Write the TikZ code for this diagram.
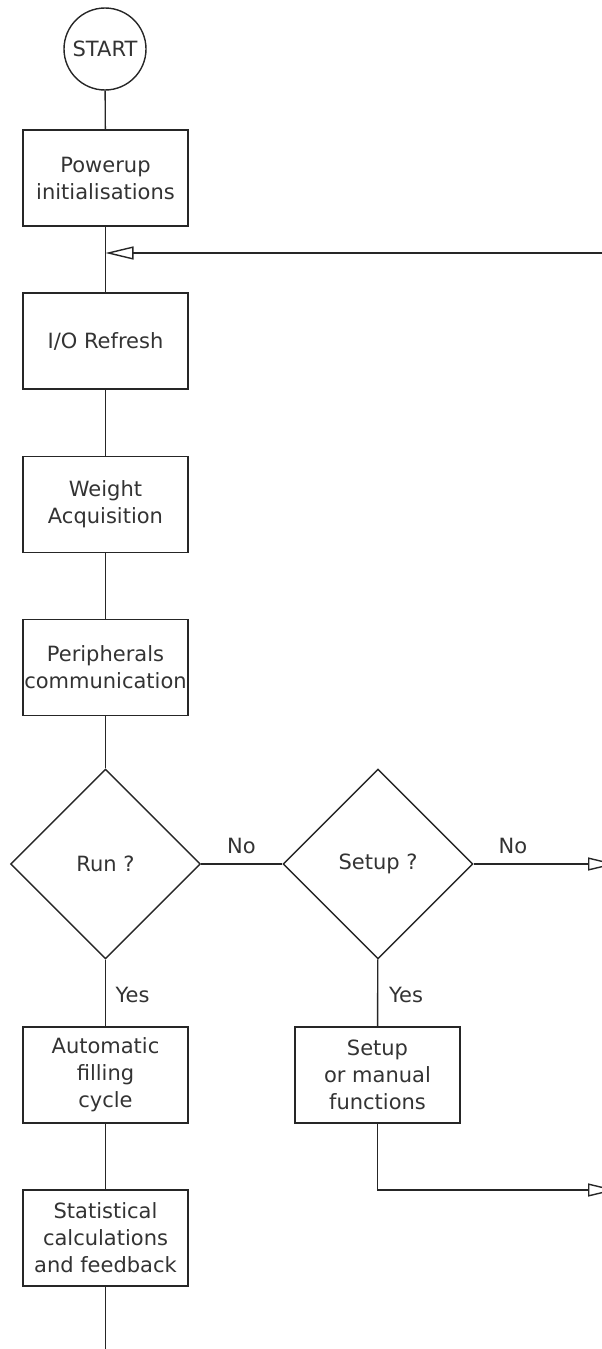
\documentclass[tikz,border=0pt]{standalone}
\usepackage{fontspec}
\setmainfont{DejaVu Sans}
\usetikzlibrary{shapes.geometric,arrows.meta}
\begin{document}
\begin{tikzpicture}[x=1pt,y=-1pt,
  line width=1.4pt, draw=black!85,
  every node/.style={font=\fontsize{21}{27}\selectfont, text=black!80},
  procbox/.style={draw, rectangle, minimum width=165pt, minimum height=96pt, inner sep=0pt, align=center},
  decide/.style={draw, diamond, minimum width=190pt, minimum height=190pt, inner sep=0pt, align=center},
  termin/.style={draw, circle, minimum size=82pt, inner sep=0pt},
  lbl/.style={inner sep=0pt},
  flow/.style={-{Triangle[open, length=28pt, width=13pt]}}
]
\useasboundingbox (0,0) rectangle (602,1349);
\node[termin] (start) at (105,49) {START};
\node[procbox] (power) at (105.5,178) {Powerup\\initialisations};
\node[procbox] (io) at (105.5,341) {I/O Refresh};
\node[procbox] (weight) at (105.5,504.5) {Weight\\Acquisition};
\node[procbox] (periph) at (105.5,667.5) {Peripherals\\communication};
\node[decide] (run) at (105.5,864) {Run ?};
\node[decide] (setup) at (378,864) {Setup ?};
\node[procbox] (auto) at (105.5,1075) {Automatic\\filling\\cycle};
\node[procbox] (manual) at (377.5,1075) {Setup\\or manual\\functions};
\node[procbox] (stat) at (105.5,1238) {Statistical\\calculations\\and feedback};

\coordinate (merge) at (105.5,253);
\coordinate (retin) at (603,253);
\coordinate (noout) at (616,864);
\coordinate (mcorner) at (377.5,1190);
\coordinate (mout) at (616,1190);
\coordinate (bottom) at (105.5,1352);

\draw (start) -- (power);
\draw (power) -- (io);
\draw[flow] (retin) -- (merge);
\draw (io) -- (weight);
\draw (weight) -- (periph);
\draw (periph) -- (run);
\draw (run) -- (setup);
\draw[flow] (setup.east) -- (noout);
\draw (run) -- (auto);
\draw (setup) -- (manual);
\draw (auto) -- (stat);
\draw (stat) -- (bottom);
\draw[flow] (manual.south) -- (mcorner) -- (mout);

\node[lbl] (no1) at (241.5,846) {No};
\node[lbl] (no2) at (513,846) {No};
\node[lbl] (yes1) at (132.5,995) {Yes};
\node[lbl] (yes2) at (406,995) {Yes};
\end{tikzpicture}
\end{document}
